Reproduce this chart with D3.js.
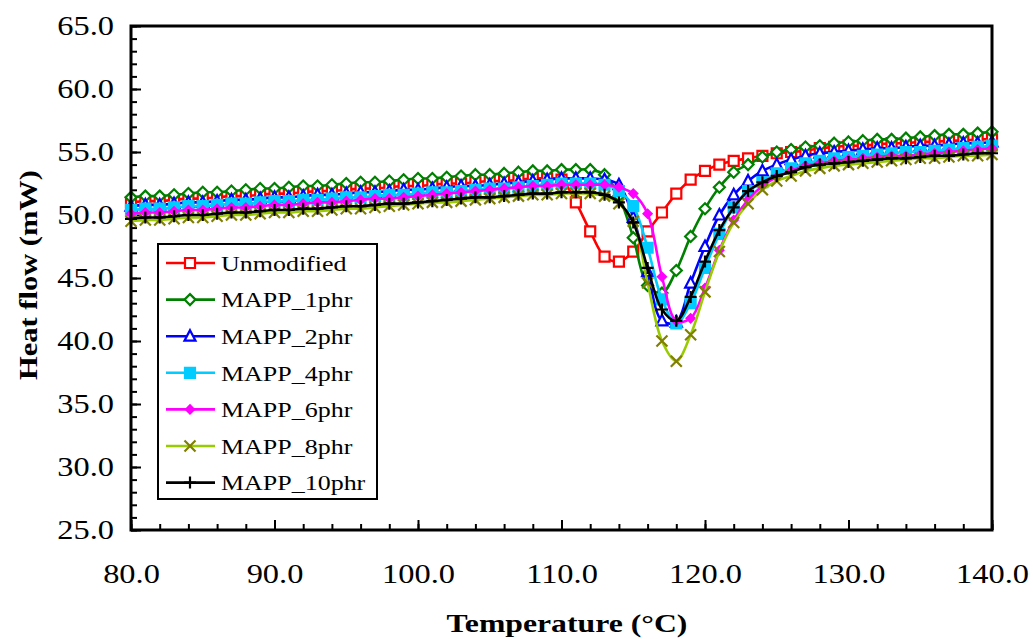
<!DOCTYPE html>
<html>
<head>
<meta charset="utf-8">
<script src="https://cdn.jsdelivr.net/npm/d3@7"></script>
<style>
  body { margin: 0; background: #fff; }
  text { font-family: "Liberation Serif", "Times New Roman", serif; }
</style>
</head>
<body>
<div id="chart"></div>
<script>
var svgWidth = 1033;
var svgHeight = 639;

// temperature (C), one reading per degree
var temps = d3.range(80, 141);

var seriesNames = ["Unmodified", "MAPP_1phr", "MAPP_2phr", "MAPP_4phr", "MAPP_6phr", "MAPP_8phr", "MAPP_10phr"];

var unmodified = [51.0, 51.1, 51.1, 51.2, 51.3, 51.3, 51.4, 51.5, 51.5, 51.6,
  51.7, 51.7, 51.8, 51.9, 51.9, 52.0, 52.1, 52.1, 52.2, 52.3,
  52.3, 52.4, 52.5, 52.5, 52.6, 52.7, 52.7, 52.8, 52.9, 52.9,
  52.8, 51.0, 48.7, 46.7, 46.3, 47.1, 48.7, 50.2, 51.7, 52.8,
  53.5, 54.0, 54.3, 54.5, 54.7, 54.9, 55.0, 55.1, 55.3, 55.4,
  55.5, 55.5, 55.6, 55.7, 55.7, 55.8, 55.8, 55.9, 55.9, 56.0, 56.0];

var mapp1 = [51.4, 51.5, 51.5, 51.6, 51.7, 51.8, 51.8, 51.9, 52.0, 52.1,
  52.1, 52.2, 52.3, 52.3, 52.4, 52.5, 52.6, 52.6, 52.7, 52.8,
  52.9, 52.9, 53.0, 53.1, 53.2, 53.2, 53.3, 53.4, 53.5, 53.5,
  53.6, 53.6, 53.6, 53.2, 51.5, 48.2, 44.4, 43.8, 45.6, 48.3,
  50.5, 52.2, 53.4, 54.0, 54.6, 55.0, 55.2, 55.4, 55.5, 55.7,
  55.8, 55.9, 56.0, 56.0, 56.1, 56.2, 56.3, 56.4, 56.4, 56.5, 56.6];

var mapp2 = [50.7, 50.8, 50.8, 50.9, 51.0, 51.0, 51.1, 51.2, 51.2, 51.3,
  51.4, 51.4, 51.5, 51.6, 51.6, 51.7, 51.8, 51.8, 51.9, 52.0,
  52.0, 52.1, 52.2, 52.3, 52.3, 52.4, 52.5, 52.6, 52.7, 52.8,
  52.9, 52.9, 52.9, 52.8, 52.4, 49.8, 45.5, 41.6, 41.5, 44.6,
  47.5, 50.0, 51.6, 52.7, 53.5, 54.0, 54.4, 54.7, 54.9, 55.0,
  55.1, 55.2, 55.3, 55.3, 55.4, 55.5, 55.5, 55.6, 55.7, 55.7, 55.8];

var mapp4 = [50.4, 50.5, 50.5, 50.6, 50.7, 50.7, 50.8, 50.9, 50.9, 51.0,
  51.1, 51.1, 51.2, 51.2, 51.3, 51.4, 51.4, 51.5, 51.6, 51.6,
  51.7, 51.8, 51.8, 51.9, 52.0, 52.1, 52.1, 52.2, 52.3, 52.4,
  52.5, 52.5, 52.5, 52.4, 51.9, 50.7, 47.4, 43.3, 41.4, 43.0,
  45.8, 48.5, 50.6, 51.9, 52.6, 53.3, 53.7, 54.1, 54.3, 54.5,
  54.6, 54.7, 54.8, 54.9, 55.0, 55.0, 55.1, 55.2, 55.3, 55.4, 55.5];

var mapp6 = [50.1, 50.2, 50.2, 50.3, 50.4, 50.4, 50.5, 50.6, 50.6, 50.7,
  50.8, 50.8, 50.9, 51.0, 51.0, 51.1, 51.2, 51.3, 51.3, 51.4,
  51.5, 51.6, 51.7, 51.8, 51.9, 52.0, 52.1, 52.2, 52.3, 52.3,
  52.4, 52.4, 52.4, 52.4, 52.2, 51.7, 50.1, 45.1, 41.6, 41.8,
  44.2, 47.2, 49.6, 51.2, 52.3, 53.0, 53.5, 53.9, 54.1, 54.3,
  54.4, 54.5, 54.6, 54.7, 54.7, 54.8, 54.9, 55.0, 55.1, 55.2, 55.3];

var mapp8 = [49.5, 49.6, 49.6, 49.7, 49.8, 49.8, 49.9, 50.0, 50.0, 50.1,
  50.2, 50.2, 50.3, 50.3, 50.4, 50.5, 50.5, 50.6, 50.7, 50.8,
  50.9, 51.0, 51.0, 51.1, 51.2, 51.3, 51.4, 51.5, 51.6, 51.6,
  51.7, 51.7, 51.7, 51.5, 50.9, 49.5, 44.6, 40.0, 38.4, 40.5,
  43.9, 47.1, 49.4, 50.9, 52.0, 52.7, 53.1, 53.5, 53.7, 53.9,
  54.0, 54.1, 54.2, 54.3, 54.4, 54.5, 54.5, 54.6, 54.7, 54.7, 54.8];

var mapp10 = [49.7, 49.8, 49.8, 49.9, 50.0, 50.0, 50.1, 50.2, 50.2, 50.3,
  50.4, 50.4, 50.5, 50.5, 50.6, 50.7, 50.7, 50.8, 50.9, 50.9,
  51.0, 51.1, 51.2, 51.3, 51.4, 51.4, 51.5, 51.6, 51.7, 51.7,
  51.8, 51.8, 51.8, 51.6, 51.0, 49.4, 45.8, 42.5, 41.6, 43.5,
  46.3, 48.8, 50.6, 51.9, 52.6, 53.1, 53.4, 53.8, 54.0, 54.1,
  54.2, 54.3, 54.4, 54.5, 54.5, 54.6, 54.7, 54.7, 54.8, 54.9, 54.9];

var xTicks = [80, 90, 100, 110, 120, 130, 140];
var yTicks = [25, 30, 35, 40, 45, 50, 55, 60, 65];

// line colour, marker colour, marker type, marker fill
var styles = [
  { line: "#ff0000", mark: "#ff0000", type: "square", fill: "#fff" },
  { line: "#008000", mark: "#008000", type: "diamond", fill: "#fff" },
  { line: "#0000ff", mark: "#0000ff", type: "triangle", fill: "#fff" },
  { line: "#00ccff", mark: "#00ccff", type: "square", fill: "#00ccff" },
  { line: "#ff00ff", mark: "#ff00ff", type: "smalldiamond", fill: "#ff00ff" },
  { line: "#99cc00", mark: "#808000", type: "x", fill: "none" },
  { line: "#000000", mark: "#000000", type: "plus", fill: "none" }
];

var allSeries = [unmodified, mapp1, mapp2, mapp4, mapp6, mapp8, mapp10];

var plot = { left: 131, right: 992, top: 26, bottom: 530 };

var svg = d3.select("#chart")
  .append("svg")
  .attr("width", svgWidth)
  .attr("height", svgHeight);

var xScale = d3.scaleLinear().domain([80, 140]).range([plot.left, plot.right]);
var yScale = d3.scaleLinear().domain([25, 65]).range([plot.bottom, plot.top]);

function markerPath(type) {
  var p = d3.path();
  if (type === "square") {
    p.rect(-5, -5, 10, 10);
  } else if (type === "diamond") {
    p.moveTo(0, -5.5); p.lineTo(5.5, 0); p.lineTo(0, 5.5); p.lineTo(-5.5, 0); p.closePath();
  } else if (type === "smalldiamond") {
    p.moveTo(0, -4); p.lineTo(4, 0); p.lineTo(0, 4); p.lineTo(-4, 0); p.closePath();
  } else if (type === "triangle") {
    p.moveTo(0, -6); p.lineTo(5.5, 4.5); p.lineTo(-5.5, 4.5); p.closePath();
  } else if (type === "x") {
    p.moveTo(-5.5, -5.5); p.lineTo(5.5, 5.5); p.moveTo(5.5, -5.5); p.lineTo(-5.5, 5.5);
  } else if (type === "plus") {
    p.moveTo(-6, 0); p.lineTo(6, 0); p.moveTo(0, -6); p.lineTo(0, 6);
  }
  return p.toString();
}

// the original's Times text runs wider than Liberation Serif, stretch it a bit
function widen(sel, k) {
  sel.each(function() {
    var len = this.getComputedTextLength();
    d3.select(this)
      .attr("textLength", len * k)
      .attr("lengthAdjust", "spacingAndGlyphs");
  });
}

// minor ticks
svg.append("g")
  .attr("transform", `translate(0, ${plot.bottom})`)
  .call(d3.axisBottom(xScale).tickValues(d3.range(80, 141, 2)).tickSizeInner(-6).tickSizeOuter(0).tickFormat(""))
  .call(g => g.select(".domain").remove())
  .selectAll("line").attr("stroke", "#000").attr("stroke-width", 2);

svg.append("g")
  .attr("transform", `translate(${plot.left}, 0)`)
  .call(d3.axisLeft(yScale).tickValues(d3.range(25, 66, 1)).tickSizeInner(-6).tickSizeOuter(0).tickFormat(""))
  .call(g => g.select(".domain").remove())
  .selectAll("line").attr("stroke", "#000").attr("stroke-width", 2);

// major ticks + labels
var xAxis = svg.append("g")
  .attr("transform", `translate(0, ${plot.bottom})`)
  .call(d3.axisBottom(xScale).tickValues(xTicks).tickSizeInner(-10).tickSizeOuter(0).tickPadding(34).tickFormat(d3.format(".1f")));
xAxis.select(".domain").remove();
xAxis.selectAll("line").attr("stroke", "#000").attr("stroke-width", 2);
xAxis.selectAll("text")
  .attr("fill", "#000")
  .style("font-size", "27px")
  .style("font-family", "'Liberation Serif', 'Times New Roman', serif")
  .call(widen, 1.2);

var yAxis = svg.append("g")
  .attr("transform", `translate(${plot.left}, 0)`)
  .call(d3.axisLeft(yScale).tickValues(yTicks).tickSizeInner(-10).tickSizeOuter(0).tickPadding(17).tickFormat(d3.format(".1f")));
yAxis.select(".domain").remove();
yAxis.selectAll("line").attr("stroke", "#000").attr("stroke-width", 2);
yAxis.selectAll("text")
  .attr("fill", "#000")
  .style("font-size", "27px")
  .style("font-family", "'Liberation Serif', 'Times New Roman', serif")
  .call(widen, 1.2);

// series
var line = d3.line()
  .x((d, i) => xScale(temps[i]))
  .y(d => yScale(d))
  .curve(d3.curveCatmullRom.alpha(0.5));

allSeries.forEach(function(values, k) {
  var st = styles[k];
  var g = svg.append("g").attr("class", "series");
  g.append("path")
    .datum(values)
    .attr("d", line)
    .attr("fill", "none")
    .attr("stroke", st.line)
    .attr("stroke-width", 2.6);
  g.selectAll("path.mark")
    .data(values)
    .enter()
    .append("path")
    .attr("class", "mark")
    .attr("transform", (d, i) => `translate(${xScale(temps[i])}, ${yScale(d)})`)
    .attr("d", markerPath(st.type))
    .attr("fill", st.fill)
    .attr("stroke", st.mark)
    .attr("stroke-width", 2.2);
});

// plot frame
svg.append("rect")
  .attr("x", plot.left)
  .attr("y", plot.top)
  .attr("width", plot.right - plot.left)
  .attr("height", plot.bottom - plot.top)
  .attr("fill", "none")
  .attr("stroke", "#000")
  .attr("stroke-width", 3);

// legend
var legend = svg.append("g");
legend.append("rect")
  .attr("x", 158).attr("y", 244)
  .attr("width", 219).attr("height", 255)
  .attr("fill", "#fff")
  .attr("stroke", "#000")
  .attr("stroke-width", 2);

seriesNames.forEach(function(name, k) {
  var st = styles[k];
  var yy = 263 + k * 36.6;
  legend.append("line")
    .attr("x1", 166).attr("x2", 215)
    .attr("y1", yy).attr("y2", yy)
    .attr("stroke", st.line)
    .attr("stroke-width", 2.6);
  legend.append("path")
    .attr("transform", `translate(190, ${yy})`)
    .attr("d", markerPath(st.type))
    .attr("fill", st.fill)
    .attr("stroke", st.mark)
    .attr("stroke-width", 2.2);
  legend.append("text")
    .attr("x", 221)
    .attr("y", yy)
    .attr("dy", "0.35em")
    .style("font-size", "22px")
    .text(name)
    .call(widen, 1.18);
});

// axis titles
svg.append("text")
  .attr("transform", "translate(37, 275) rotate(-90)")
  .attr("text-anchor", "middle")
  .style("font-size", "25px")
  .style("font-weight", "bold")
  .text("Heat flow (mW)")
  .call(widen, 1.22);

svg.append("text")
  .attr("x", 567)
  .attr("y", 632)
  .attr("text-anchor", "middle")
  .style("font-size", "26px")
  .style("font-weight", "bold")
  .text("Temperature (°C)")
  .call(widen, 1.22);
</script>
</body>
</html>
